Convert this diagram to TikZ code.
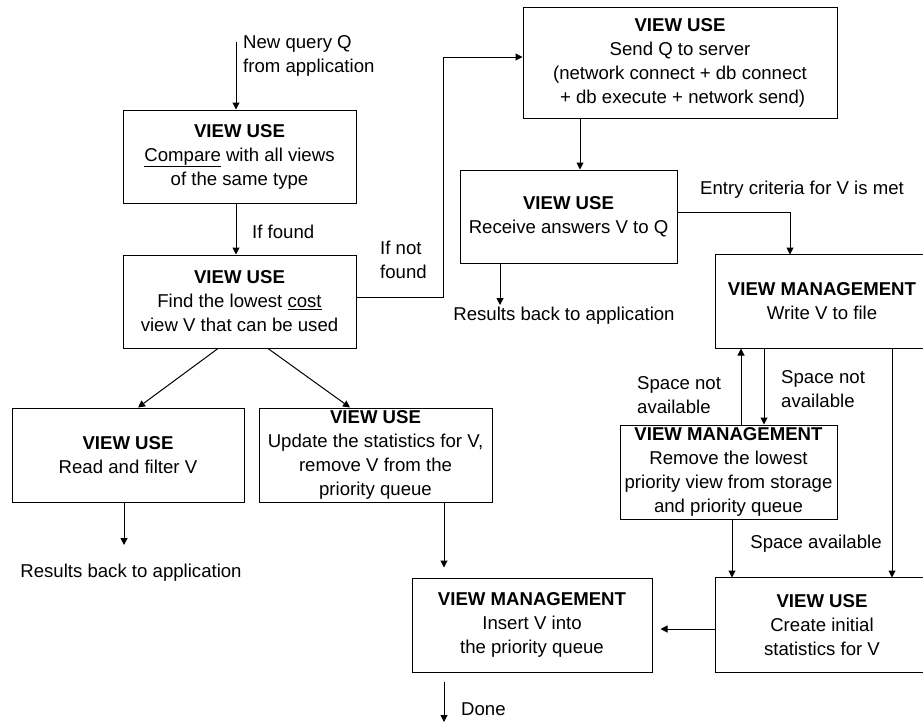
\documentclass[tikz,border=0pt]{standalone}
\usepackage{fontspec}
\setmainfont{Liberation Sans}
\usetikzlibrary{arrows.meta}

\begin{document}
\begin{tikzpicture}[x=1pt,y=-1pt,font=\fontsize{18.6}{24}\selectfont,
  box/.style={draw=black,line width=1pt,align=center,inner sep=0pt},
  openbox/.style={box,draw=none},
  lbl/.style={text=black,inner sep=0pt,align=left},
  arr/.style={draw=black,line width=1pt,-{Triangle[length=7pt,width=7pt]}}]
\useasboundingbox (0,0) rectangle (923,723);
\clip (0,0) rectangle (923,723);

\node[box,minimum width=233,minimum height=93] (compare) at (239.5,156.5) {\textbf{VIEW USE}\\\underline{Compare} with all views\\of the same type};
\node[box,minimum width=233,minimum height=93] (find) at (239.5,301.5) {\textbf{VIEW USE}\\Find the lowest \underline{cost}\\view V that can be used};
\node[box,minimum width=314,minimum height=111] (send) at (680,62.5) {\textbf{VIEW USE}\\Send Q to server\\(network connect + db connect\\\ + db execute + network send)};
\node[box,minimum width=217,minimum height=93] (receive) at (568.5,216.5) {\textbf{VIEW USE}\\Receive answers V to Q};
\node[openbox,minimum width=212,minimum height=93] (write) at (822,301.5) {\textbf{VIEW MANAGEMENT}\\Write V to file};
\node[box,minimum width=217,minimum height=94] (remove) at (728.5,472) {\textbf{VIEW MANAGEMENT}\\Remove the lowest\\priority view from storage\\and priority queue};
\node[openbox,minimum width=212,minimum height=94] (create) at (822,625) {\textbf{VIEW USE}\\Create initial\\statistics for V};
\node[box,minimum width=240,minimum height=94] (insert) at (532,625) {\textbf{VIEW MANAGEMENT}\\Insert V into\\the priority queue};
\node[box,minimum width=232,minimum height=94] (read) at (128,455) {\textbf{VIEW USE}\\Read and filter V};
\node[box,minimum width=233,minimum height=94] (update) at (375.5,455) {\textbf{VIEW USE}\\Update the statistics for V,\\remove V from the\\priority queue};

% boxes cut by the right edge of the page
\draw[line width=1pt] (write.north east) -- (write.north west) -- (write.south west) -- (write.south east);
\draw[line width=1pt] (create.north east) -- (create.north west) -- (create.south west) -- (create.south east);

\coordinate (qin) at (236,42);
\coordinate (res1) at (124,545);
\coordinate (res2) at (500,305);
\coordinate (done) at (444,722);

\node[lbl] (newq) at (243,56) [anchor=west] {New query Q\\from application};
\node[lbl] (found) at (252,232) [anchor=west] {If found};
\node[lbl] (notfound) at (380,260) [anchor=west] {If not\\found};
\node[lbl] (entry) at (802,190) {Entry criteria for V is met};
\node[lbl] (back2) at (564,316) {Results back to application};
\node[lbl] (back1) at (131,573) {Results back to application};
\node[lbl] (nospace1) at (637,395) [anchor=west] {Space not\\available};
\node[lbl] (nospace2) at (781,389) [anchor=west] {Space not\\available};
\node[lbl] (space) at (816,544) {Space available};
\node[lbl] (finished) at (461,709) [anchor=west] {Done};

\draw[arr] (qin) -- ([xshift=-3.5pt]compare.north);
\draw[arr] ([xshift=-3.5pt]compare.south) -- ([xshift=-3.5pt]find.north);
\draw[arr] ([yshift=4.5pt]find.east) -- ++(87,0) |- ([yshift=5.5pt]send.west);
\draw[arr] ([xshift=-100pt]send.south) -- ([xshift=11.5pt]receive.north);
\draw[arr] ([xshift=-68.5pt]receive.south) -- (res2);
\draw[arr] ([yshift=4.5pt]receive.east) -| ([xshift=-32pt]write.north);
\draw[arr] ([xshift=-58pt]write.south) -- ([xshift=35.5pt]remove.north);
\draw[arr] ([xshift=12.5pt]remove.north) -- ([xshift=-81pt]write.south);
\draw[arr] ([xshift=70pt]write.south) -- ([xshift=70pt]create.north);
\draw[arr] ([xshift=3.5pt]remove.south) -- ([xshift=-90pt]create.north);
\draw[arr,shorten >=8pt] ([yshift=-4pt]create.west) -- ([yshift=-4pt]insert.east);
\draw[arr,shorten <=9pt] ([xshift=-88pt]insert.south) -- (done);
\draw[arr] ([xshift=-21.5pt]find.south) -- ([xshift=10pt]read.north);
\draw[arr] ([xshift=28.5pt]find.south) -- ([xshift=-25.5pt]update.north);
\draw[arr] ([xshift=-4pt]read.south) -- (res1);
\draw[arr,shorten >=10pt] ([xshift=68.5pt]update.south) -- ([xshift=-88pt]insert.north);

\end{tikzpicture}
\end{document}
